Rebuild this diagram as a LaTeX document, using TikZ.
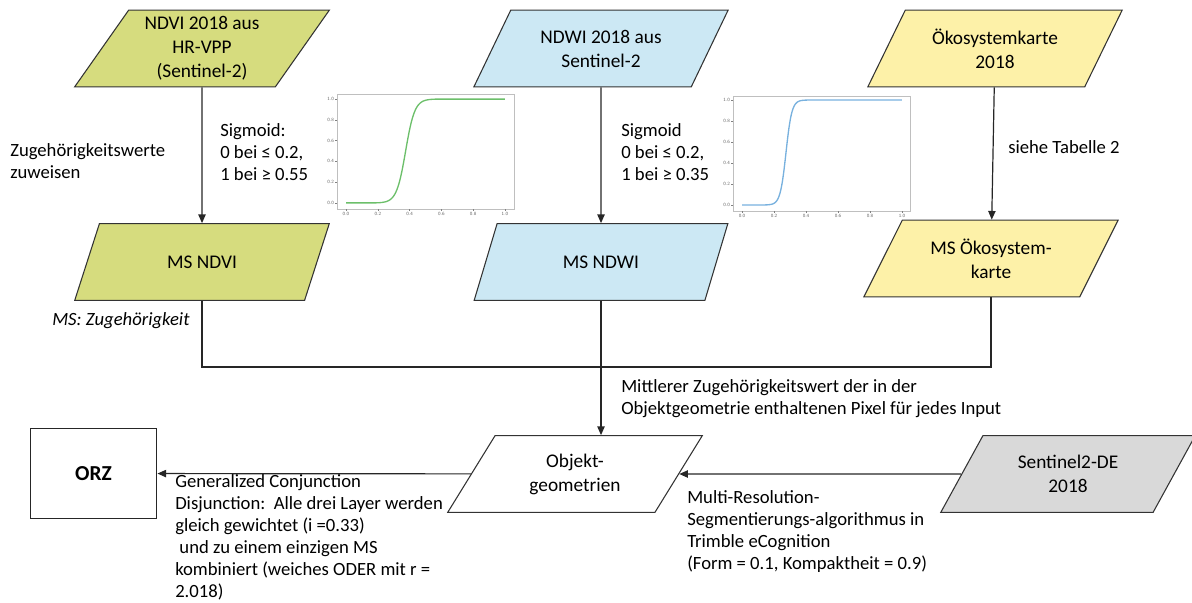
\documentclass[tikz,border=0pt]{standalone}
\usepackage{fontspec}
\setmainfont{Carlito}
\usetikzlibrary{shapes.geometric,arrows.meta}

\definecolor{ndvigreen}{HTML}{D6DC7E}
\definecolor{ndwiblue}{HTML}{CCE8F4}
\definecolor{oekoyellow}{HTML}{FDF1A8}
\definecolor{sentgray}{HTML}{D9D9D9}
\definecolor{curvegreen}{HTML}{6CBF6A}
\definecolor{curveblue}{HTML}{78B1DE}

\newcommand{\boxfont}{\fontsize{14.5}{18}\selectfont}
\newcommand{\lblfont}{\fontsize{14}{16.5}\selectfont}
\newcommand{\tickfont}{\fontsize{3.6}{4}\sffamily\selectfont}

\tikzset{
  datbox/.style={trapezium, trapezium left angle=56.5, trapezium right angle=123.5,
    trapezium stretches=true, draw=black!80, line width=0.8pt,
    minimum width=191pt, minimum height=57.5pt, align=center, font=\boxfont, inner sep=0pt},
  lbl/.style={anchor=north west, inner sep=0pt, align=left, font=\lblfont},
  flow/.style={line width=0.9pt, draw=black!85},
  plotframe/.style={draw=black!25, line width=0.5pt},
  ticklbl/.style={font=\tickfont, text=black!60, inner sep=0.6pt}
}
\pgfkeys{/pgf/number format/.cd, fixed, precision=1, fixed zerofill, assume math mode=true}

\begin{document}
\begin{tikzpicture}[x=0.75pt,y=-0.75pt,>={Triangle[length=6.5pt,width=5.5pt]}]
  \useasboundingbox (0,0) rectangle (1192,603);

  % Input layers
  \node[datbox, fill=ndvigreen] (ndvi) at (202,48.5) {NDVI 2018 aus\\HR-VPP\\(Sentinel-2)};
  \node[datbox, fill=ndwiblue] (ndwi) at (601,48.5) {NDWI 2018 aus\\Sentinel-2};
  \node[datbox, fill=oekoyellow] (oeko) at (995,48.5) {Ökosystemkarte\\2018};

  % Membership layers
  \node[datbox, fill=ndvigreen] (msndvi) at (202,262) {MS NDVI};
  \node[datbox, fill=ndwiblue] (msndwi) at (601,262) {MS NDWI};
  \node[datbox, fill=oekoyellow] (msoeko) at (991,258.5) {MS Ökosystem-\\karte};

  % Segmentation
  \node[datbox, fill=white] (objekt) at (575,474) {Objekt-\\geometrien};
  \node[datbox, fill=sentgray] (sentinel) at (1068,474) {Sentinel2-DE\\2018};

  % Result
  \node[draw=black!85, line width=0.9pt, minimum width=95pt, minimum height=68pt,
    font=\fontsize{16}{19}\selectfont\bfseries] (orz) at (93.5,473.5) {ORZ};

  % Arrows between layers
  \draw[flow,->] (ndvi) -- (msndvi);
  \draw[flow,->] (ndwi) -- (msndwi);
  \draw[flow,->] (oeko) -- (msoeko);

  % Combine membership layers
  \coordinate (join) at (601,367);
  \draw[flow] (msndvi.south) |- (join);
  \draw[flow] (msoeko.south) |- (join);
  \draw[flow,->] (msndwi.south) -- (msndwi.south |- objekt.north);

  \draw[flow,->] (sentinel) -- (objekt);
  \draw[flow,->] (objekt) -- (orz);

  % Labels
  \node[lbl] (lblzuw) at (10,143) {Zugehörigkeitswerte\\zuweisen};
  \node[lbl] (lblsiga) at (220,123) {Sigmoid:\\0 bei ≤ 0.2,\\1 bei ≥ 0.55};
  \node[lbl] (lblsigb) at (621,123) {Sigmoid\\0 bei ≤ 0.2,\\1 bei ≥ 0.35};
  \node[lbl] (lbltab) at (1008,140) {siehe Tabelle 2};
  \node[lbl, font=\lblfont\itshape] (lblms) at (52,312) {MS: Zugehörigkeit};
  \node[lbl] (lblmittel) at (621,379) {Mittlerer Zugehörigkeitswert der in der\\Objektgeometrie enthaltenen Pixel für jedes Input};
  \node[lbl] (lblgen) at (175,474) {Generalized Conjunction\\Disjunction:\ \ Alle drei Layer werden\\gleich gewichtet (i =0.33)\\\ und zu einem einzigen MS\\kombiniert (weiches ODER mit r =\\2.018)};
  \node[lbl] (lblmulti) at (687,490) {Multi-Resolution-\\Segmentierungs-algorithmus in\\Trimble eCognition\\(Form = 0.1, Kompaktheit = 0.9)};

  % Sigmoid plot NDVI
  \draw[plotframe] (337,94) rectangle (514,209);
  \foreach \v in {0,2,4,6,8,10} {
    \pgfmathsetmacro{\yy}{203-10.4*\v}
    \pgfmathsetmacro{\xx}{346+15.9*\v}
    \draw[black!50, line width=0.3pt] (337,\yy) -- (335,\yy);
    \draw[black!50, line width=0.3pt] (\xx,209) -- (\xx,211);
    \node[ticklbl, anchor=east] (ya\v) at (335,\yy) {\pgfmathparse{\v/10}\pgfmathprintnumber{\pgfmathresult}};
    \node[ticklbl, anchor=north] (xa\v) at (\xx,211) {\pgfmathparse{\v/10}\pgfmathprintnumber{\pgfmathresult}};
  }
  \draw[curvegreen, line width=1pt] plot[domain=0:1, samples=120, smooth]
    ({346+159*\x}, {203-104/(1+exp(-35*max(-0.2,min(0.2,\x-0.375))))});

  % Sigmoid plot NDWI
  \draw[plotframe] (733,96) rectangle (910,211);
  \foreach \v in {0,2,4,6,8,10} {
    \pgfmathsetmacro{\yy}{205-10.5*\v}
    \pgfmathsetmacro{\xx}{742+16*\v}
    \draw[black!50, line width=0.3pt] (733,\yy) -- (731,\yy);
    \draw[black!50, line width=0.3pt] (\xx,211) -- (\xx,213);
    \node[ticklbl, anchor=east] (yb\v) at (731,\yy) {\pgfmathparse{\v/10}\pgfmathprintnumber{\pgfmathresult}};
    \node[ticklbl, anchor=north] (xb\v) at (\xx,213) {\pgfmathparse{\v/10}\pgfmathprintnumber{\pgfmathresult}};
  }
  \draw[curveblue, line width=1pt] plot[domain=0:1, samples=120, smooth]
    ({742+160*\x}, {205-105/(1+exp(-55*max(-0.15,min(0.15,\x-0.275))))});
\end{tikzpicture}
\end{document}
